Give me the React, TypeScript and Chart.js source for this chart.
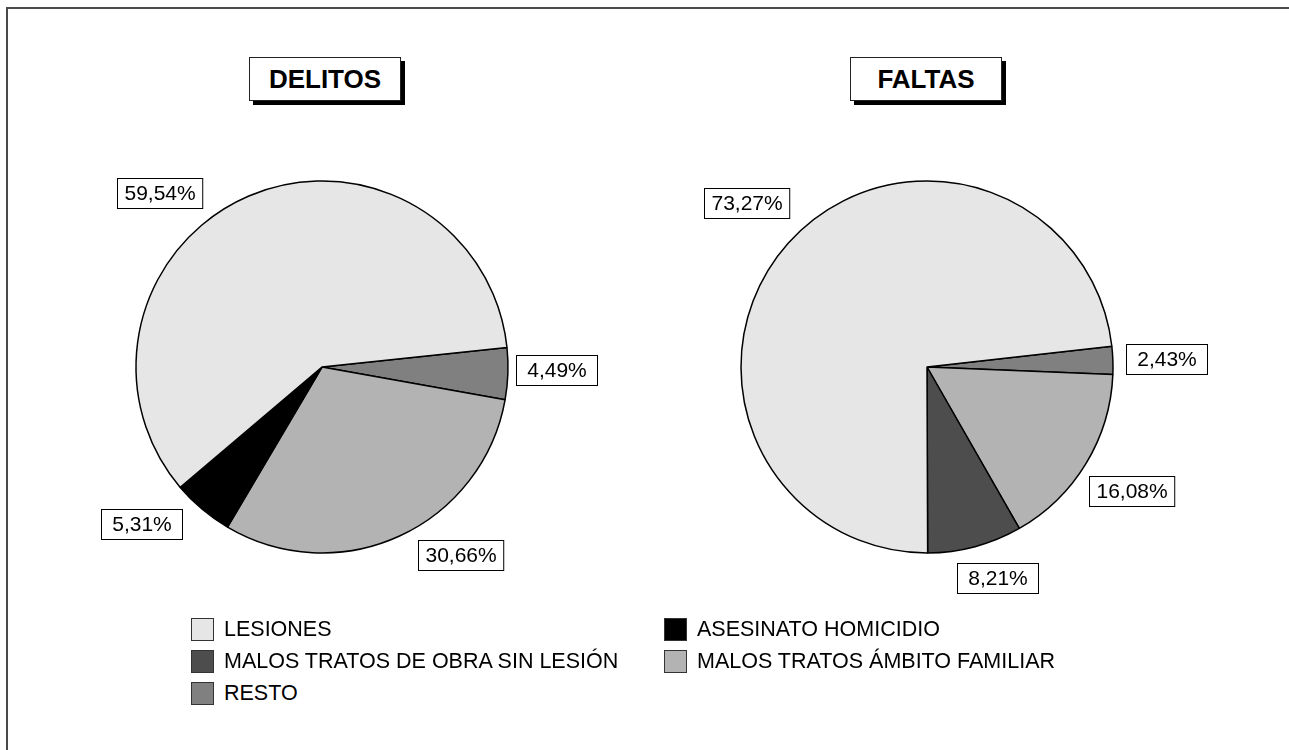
import React, { useEffect, useRef } from "react";
import { Chart, registerables } from "chart.js";

Chart.register(...registerables);

// ---- data ----
const categories = [
  "LESIONES",
  "ASESINATO HOMICIDIO",
  "MALOS TRATOS DE OBRA SIN LESIÓN",
  "MALOS TRATOS ÁMBITO FAMILIAR",
  "RESTO",
];
const delitosValues = [59.54, 5.31, 0, 30.66, 4.49];
const faltasValues = [73.27, 0, 8.21, 16.08, 2.43];
const chartTitles = ["DELITOS", "FALTAS"];
const sliceColors = ["#e6e6e6", "#000000", "#4d4d4d", "#b3b3b3", "#808080"];

// ---- layout (not data) ----
const FONT = '"Liberation Sans", Arial, Helvetica, sans-serif';
const RADIUS = 186;
const CANVAS = 600;
// label nudges per category: [angle offset deg, distance beyond radius px]
const delitosLabelPos = [[-19.9, 52], [8.8, 53], [0, 50], [-11.8, 48], [-1.3, 49]];
const faltasLabelPos = [[0.5, 58], [0, 50], [-3.5, 36], [0, 53], [0, 54]];

const fmt = (v: number) => v.toFixed(2).replace(".", ",") + "%";

const boxLabelPlugin = {
  id: "boxLabels",
  afterDatasetsDraw(chart: any, _args: any, opts: any) {
    const meta = chart.getDatasetMeta(0);
    const ds = chart.data.datasets[0];
    const ctx = chart.ctx;
    ctx.save();
    ctx.font = `21px ${FONT}`;
    ctx.textAlign = "center";
    ctx.textBaseline = "middle";
    meta.data.forEach((arc: any, i: number) => {
      const v = ds.data[i];
      if (!v) return;
      const catIdx = ds.catIndex[i];
      const [da, dr] = opts.pos[catIdx];
      const p = arc.getProps(["x", "y", "startAngle", "endAngle", "outerRadius"], true);
      const mid = (p.startAngle + p.endAngle) / 2 + (da * Math.PI) / 180;
      const dist = p.outerRadius + dr;
      const cx = p.x + Math.cos(mid) * dist;
      const cy = p.y + Math.sin(mid) * dist;
      const text = fmt(v);
      const tw = ctx.measureText(text).width;
      const w = Math.max(tw + 14, 81);
      const h = 30;
      const x0 = Math.round(cx - w / 2) + 0.5;
      const y0 = Math.round(cy - h / 2) + 0.5;
      ctx.fillStyle = "#ffffff";
      ctx.fillRect(x0, y0, w, h);
      ctx.strokeStyle = "#000000";
      ctx.lineWidth = 1;
      ctx.strokeRect(x0, y0, w, h);
      ctx.fillStyle = "#000000";
      ctx.fillText(text, x0 + w / 2, y0 + h / 2 + 1);
    });
    ctx.restore();
  },
};

function PieChart(props: { values: number[]; rotation: number; pos: number[][]; left: number; top: number }) {
  const ref = useRef<HTMLCanvasElement | null>(null);
  useEffect(() => {
    if (!ref.current) return;
    // draw clockwise in reverse category order
    const order = categories.map((_, i) => categories.length - 1 - i);
    const ds: any = {
      data: order.map((i) => props.values[i]),
      backgroundColor: order.map((i) => sliceColors[i]),
      borderColor: "#000000",
      borderWidth: 1.5,
      radius: RADIUS,
      catIndex: order,
    };
    const chart = new Chart(ref.current, {
      type: "pie",
      data: { labels: order.map((i) => categories[i]), datasets: [ds] },
      options: {
        responsive: false,
        animation: false,
        events: [],
        rotation: props.rotation,
        layout: { padding: 0 },
        plugins: {
          legend: { display: false },
          tooltip: { enabled: false },
          boxLabels: { pos: props.pos },
        } as any,
      },
      plugins: [boxLabelPlugin],
    });
    return () => chart.destroy();
  }, []);
  return (
    <canvas
      ref={ref}
      width={CANVAS}
      height={CANVAS}
      style={{ position: "absolute", left: props.left, top: props.top, width: CANVAS, height: CANVAS }}
    />
  );
}

function TitleBox(props: { text: string; left: number }) {
  return (
    <div
      style={{
        position: "absolute",
        left: props.left,
        top: 57,
        width: 150,
        height: 42,
        border: "1px solid #222",
        background: "#fff",
        boxShadow: "4px 4px 0 #000",
        font: `bold 26px ${FONT}`,
        lineHeight: "43px",
        textAlign: "center",
        color: "#000",
      }}
    >
      {props.text}
    </div>
  );
}

export default function App() {
  const legendCols = [191, 664];
  const legendRows = [618, 650, 682];
  return (
    <div style={{ position: "absolute", left: 0, top: 0, width: 1289, height: 750, overflow: "hidden", background: "#fff" }}>
      <div
        style={{
          position: "absolute",
          left: 6,
          top: 7,
          width: 1400,
          height: 900,
          border: "2px solid #4a4a4a",
        }}
      />
      <TitleBox text={chartTitles[0]} left={249} />
      <TitleBox text={chartTitles[1]} left={850} />
      <PieChart values={delitosValues} rotation={84} pos={delitosLabelPos} left={22} top={67} />
      <PieChart values={faltasValues} rotation={83.6} pos={faltasLabelPos} left={627} top={67} />
      {categories.map((c, i) => {
        const col = i % 2;
        const row = Math.floor(i / 2);
        return (
          <div
            key={c}
            style={{ position: "absolute", left: legendCols[col], top: legendRows[row], height: 23, display: "flex", alignItems: "center" }}
          >
            <div
              style={{
                width: 21,
                height: 21,
                background: sliceColors[i],
                border: "1px solid #333",
              }}
            />
            <span style={{ marginLeft: 10, font: `21.5px ${FONT}`, color: "#000", whiteSpace: "nowrap", lineHeight: "23px" }}>{c}</span>
          </div>
        );
      })}
    </div>
  );
}
